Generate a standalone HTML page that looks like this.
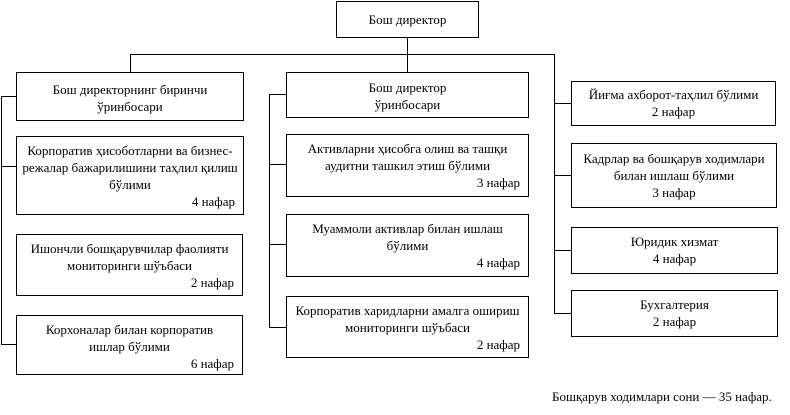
<!DOCTYPE html>
<html><head><meta charset="utf-8"><style>
body{margin:0;width:790px;height:415px;background:#fff;position:relative;overflow:hidden;font-family:"Liberation Serif","DejaVu Serif",serif;font-size:13px;color:#000}
.b{position:absolute;border:1px solid #000;box-sizing:border-box;text-align:center;line-height:17px;padding-top:5px}
.r{text-align:right;padding-right:8px}
.l{position:absolute;background:#000}
.h{height:1px}.v{width:1px}
</style></head><body>
<div class="b" style="left:336px;top:1px;width:143px;height:37px;padding-top:9px">Бош директор</div>
<div class="l v" style="left:407px;top:38px;height:34px"></div>
<div class="l h" style="left:130px;top:54px;width:425px"></div>
<div class="l v" style="left:130px;top:54px;height:18px"></div>
<div class="l v" style="left:554px;top:54px;height:260px"></div>

<div class="l v" style="left:1px;top:96px;height:249px"></div>
<div class="l h" style="left:1px;top:96px;width:15px"></div>
<div class="l h" style="left:1px;top:166px;width:15px"></div>
<div class="l h" style="left:1px;top:344px;width:15px"></div>
<div class="b" style="left:16px;top:72px;width:228px;height:49px;padding-top:8px">Бош директорнинг биринчи<br>ўринбосари</div>
<div class="b" style="left:16px;top:136px;width:228px;height:79px">Корпоратив ҳисоботларни ва бизнес-<br>режалар бажарилишини таҳлил қилиш<br>бўлими<div class="r">4 нафар</div></div>
<div class="b" style="left:16px;top:234px;width:227px;height:62px">Ишончли бошқарувчилар фаолияти<br>мониторинги шўъбаси<div class="r">2 нафар</div></div>
<div class="b" style="left:16px;top:315px;width:227px;height:60px">Корхоналар билан корпоратив<br>ишлар бўлими<div class="r">6 нафар</div></div>

<div class="l v" style="left:269px;top:94px;height:234px"></div>
<div class="l h" style="left:269px;top:94px;width:17px"></div>
<div class="l h" style="left:269px;top:164px;width:17px"></div>
<div class="l h" style="left:269px;top:244px;width:17px"></div>
<div class="l h" style="left:269px;top:327px;width:17px"></div>
<div class="b" style="left:286px;top:72px;width:243px;height:46px;padding-top:6px">Бош директор<br>ўринбосари</div>
<div class="b" style="left:286px;top:134px;width:243px;height:63px">Активларни ҳисобга олиш ва ташқи<br>аудитни ташкил этиш бўлими<div class="r">3 нафар</div></div>
<div class="b" style="left:286px;top:214px;width:243px;height:63px">Муаммоли активлар билан ишлаш<br>бўлими<div class="r">4 нафар</div></div>
<div class="b" style="left:286px;top:296px;width:243px;height:62px">Корпоратив харидларни амалга ошириш<br>мониторинги шўъбаси<div class="r">2 нафар</div></div>

<div class="l h" style="left:554px;top:103px;width:17px"></div>
<div class="l h" style="left:554px;top:175px;width:17px"></div>
<div class="l h" style="left:554px;top:250px;width:17px"></div>
<div class="l h" style="left:554px;top:313px;width:17px"></div>
<div class="b" style="left:571px;top:81px;width:205px;height:45px;padding-top:4px">Йиғма ахборот-таҳлил бўлими<br>2 нафар</div>
<div class="b" style="left:571px;top:143px;width:206px;height:65px;padding-top:6px">Кадрлар ва бошқарув ходимлари<br>билан ишлаш бўлими<br>3 нафар</div>
<div class="b" style="left:571px;top:227px;width:207px;height:47px;padding-top:5px">Юридик хизмат<br>4 нафар</div>
<div class="b" style="left:571px;top:290px;width:207px;height:47px;padding-top:5px">Бухгалтерия<br>2 нафар</div>

<div style="position:absolute;left:552px;top:389px;white-space:nowrap">Бошқарув ходимлари сони — 35 нафар.</div>
</body></html>
